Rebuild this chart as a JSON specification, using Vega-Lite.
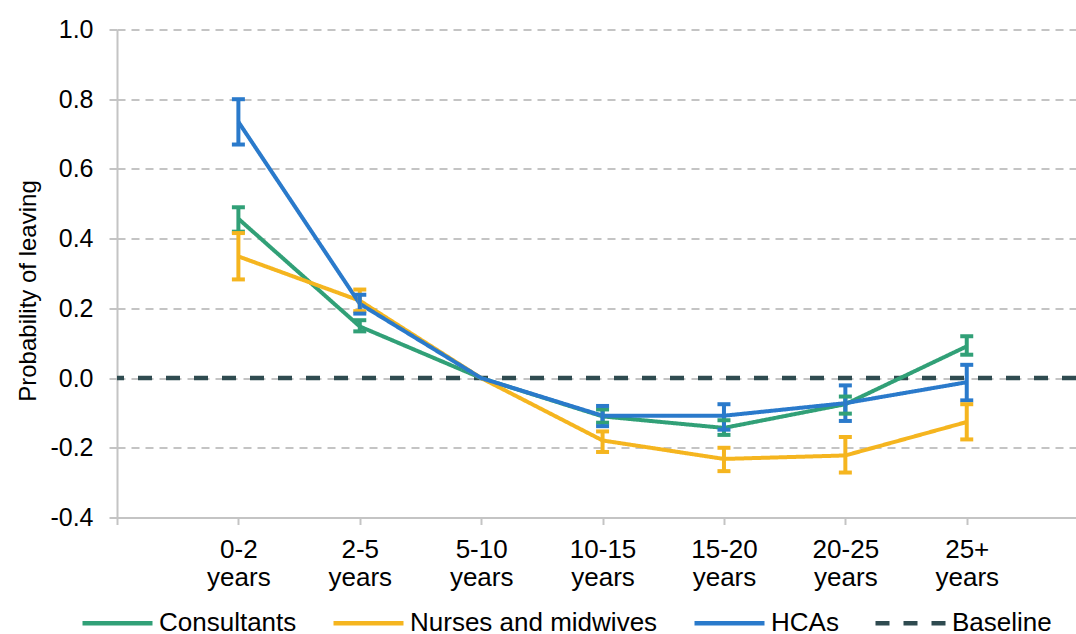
{
  "$schema": "https://vega.github.io/schema/vega-lite/v6.json",
  "width": 959,
  "height": 488,
  "autosize": {"type": "none"},
  "padding": {"left": 117, "top": 29.5, "right": 0, "bottom": 116.5},
  "background": "white",
  "config": {
    "view": {"stroke": null},
    "font": "Liberation Sans",
    "axis": {"labelFont": "Liberation Sans", "titleFont": "Liberation Sans", "labelColor": "#000000", "titleColor": "#000000"}
  },
  "datasets": {
    "series": [
      {"cat": "0-2 years", "series": "Consultants", "value": 0.457, "low": 0.42, "high": 0.49},
      {"cat": "2-5 years", "series": "Consultants", "value": 0.148, "low": 0.134, "high": 0.166},
      {"cat": "5-10 years", "series": "Consultants", "value": 0, "low": null, "high": null},
      {"cat": "10-15 years", "series": "Consultants", "value": -0.11, "low": -0.128, "high": -0.09},
      {"cat": "15-20 years", "series": "Consultants", "value": -0.143, "low": -0.163, "high": -0.121},
      {"cat": "20-25 years", "series": "Consultants", "value": -0.075, "low": -0.102, "high": -0.053},
      {"cat": "25+ years", "series": "Consultants", "value": 0.091, "low": 0.067, "high": 0.12},
      {"cat": "0-2 years", "series": "Nurses and midwives", "value": 0.349, "low": 0.283, "high": 0.416},
      {"cat": "2-5 years", "series": "Nurses and midwives", "value": 0.222, "low": 0.192, "high": 0.254},
      {"cat": "5-10 years", "series": "Nurses and midwives", "value": 0, "low": null, "high": null},
      {"cat": "10-15 years", "series": "Nurses and midwives", "value": -0.179, "low": -0.212, "high": -0.153},
      {"cat": "15-20 years", "series": "Nurses and midwives", "value": -0.232, "low": -0.267, "high": -0.2},
      {"cat": "20-25 years", "series": "Nurses and midwives", "value": -0.222, "low": -0.271, "high": -0.169},
      {"cat": "25+ years", "series": "Nurses and midwives", "value": -0.126, "low": -0.176, "high": -0.075},
      {"cat": "0-2 years", "series": "HCAs", "value": 0.735, "low": 0.67, "high": 0.8},
      {"cat": "2-5 years", "series": "HCAs", "value": 0.213, "low": 0.185, "high": 0.239},
      {"cat": "5-10 years", "series": "HCAs", "value": 0, "low": null, "high": null},
      {"cat": "10-15 years", "series": "HCAs", "value": -0.108, "low": -0.138, "high": -0.08},
      {"cat": "15-20 years", "series": "HCAs", "value": -0.108, "low": -0.148, "high": -0.075},
      {"cat": "20-25 years", "series": "HCAs", "value": -0.072, "low": -0.123, "high": -0.021},
      {"cat": "25+ years", "series": "HCAs", "value": -0.012, "low": -0.064, "high": 0.038}
    ],
    "baseline": [
      {"series": "Baseline", "value": 0}
    ]
  },
  "encoding": {
    "x": {
      "field": "cat",
      "type": "ordinal",
      "scale": {
        "type": "point",
        "domain": ["", "0-2 years", "2-5 years", "5-10 years", "10-15 years", "15-20 years", "20-25 years", "25+ years"],
        "padding": 0.45,
        "align": 0
      },
      "axis": {
        "title": null,
        "labelAngle": 0,
        "labelExpr": "split(datum.label, ' ')",
        "labelFontSize": 26,
        "labelLineHeight": 28,
        "labelPadding": 12,
        "labelBaseline": "top",
        "tickSize": 7,
        "tickWidth": 2,
        "tickColor": "#c4c4c4",
        "domainColor": "#c4c4c4",
        "domainWidth": 2,
        "grid": false
      }
    }
  },
  "layer": [
    {
      "data": {"name": "baseline"},
      "mark": {"type": "rule", "strokeWidth": 4.5},
      "encoding": {
        "x": null,
        "y": {
          "field": "value",
          "type": "quantitative",
          "scale": {"domain": [-0.4, 1.0], "nice": false, "zero": false},
          "axis": {
            "title": "Probability of leaving",
            "titleFontSize": 24,
            "titleFontWeight": "normal",
            "titleAngle": -90,
            "titleX": -82,
            "titleY": 261,
            "titleAlign": "center",
            "titleBaseline": "alphabetic",
            "values": [-0.4, -0.2, 0, 0.2, 0.4, 0.6, 0.8, 1.0],
            "labelExpr": "replace(format(datum.value, '.1f'), '\u2212', '-')",
            "labelFontSize": 25,
            "labelPadding": 16,
            "tickSize": 8,
            "tickWidth": 2,
            "tickColor": "#c4c4c4",
            "domainColor": "#c4c4c4",
            "domainWidth": 2,
            "grid": true,
            "gridColor": "#c4c4c4",
            "gridWidth": 2,
            "gridDash": [8, 6]
          }
        },
        "color": {
          "field": "series",
          "type": "nominal",
          "scale": {
            "domain": ["Consultants", "Nurses and midwives", "HCAs", "Baseline"],
            "range": ["#31a077", "#f5b51f", "#2a7acb", "#2f4b50"]
          },
          "legend": {
            "title": null,
            "orient": "none",
            "direction": "horizontal",
            "legendX": -37,
            "legendY": 556,
            "symbolType": "stroke",
            "symbolSize": 4900,
            "symbolStrokeWidth": 4.5,
            "labelFontSize": 26,
            "labelFont": "Liberation Sans",
            "labelColor": "#000000",
            "labelLimit": 500,
            "labelOffset": 4,
            "columnPadding": 27,
            "padding": 0
          }
        },
        "strokeDash": {
          "field": "series",
          "type": "nominal",
          "scale": {
            "domain": ["Consultants", "Nurses and midwives", "HCAs", "Baseline"],
            "range": [[1, 0], [1, 0], [1, 0], [14, 14]]
          },
          "legend": {
            "title": null,
            "orient": "none",
            "direction": "horizontal",
            "legendX": -37,
            "legendY": 556,
            "symbolType": "stroke",
            "symbolSize": 4900,
            "symbolStrokeWidth": 4.5,
            "labelFontSize": 26,
            "labelFont": "Liberation Sans",
            "labelColor": "#000000",
            "labelLimit": 500,
            "labelOffset": 4,
            "columnPadding": 27,
            "padding": 0
          }
        }
      }
    },
    {
      "data": {"name": "series"},
      "mark": {"type": "line", "strokeWidth": 4},
      "encoding": {
        "y": {"field": "value", "type": "quantitative"},
        "color": {"field": "series", "type": "nominal"},
        "strokeDash": {"field": "series", "type": "nominal"}
      }
    },
    {
      "data": {"name": "series"},
      "transform": [{"filter": "datum.low != null"}],
      "mark": {"type": "rule", "strokeWidth": 4},
      "encoding": {
        "y": {"field": "low", "type": "quantitative"},
        "y2": {"field": "high"},
        "color": {"field": "series", "type": "nominal", "legend": null}
      }
    },
    {
      "data": {"name": "series"},
      "transform": [{"filter": "datum.low != null"}],
      "mark": {"type": "tick", "size": 13, "thickness": 4, "orient": "horizontal", "opacity": 1},
      "encoding": {
        "y": {"field": "low", "type": "quantitative"},
        "color": {"field": "series", "type": "nominal", "legend": null}
      }
    },
    {
      "data": {"name": "series"},
      "transform": [{"filter": "datum.low != null"}],
      "mark": {"type": "tick", "size": 13, "thickness": 4, "orient": "horizontal", "opacity": 1},
      "encoding": {
        "y": {"field": "high", "type": "quantitative"},
        "color": {"field": "series", "type": "nominal", "legend": null}
      }
    }
  ]
}
